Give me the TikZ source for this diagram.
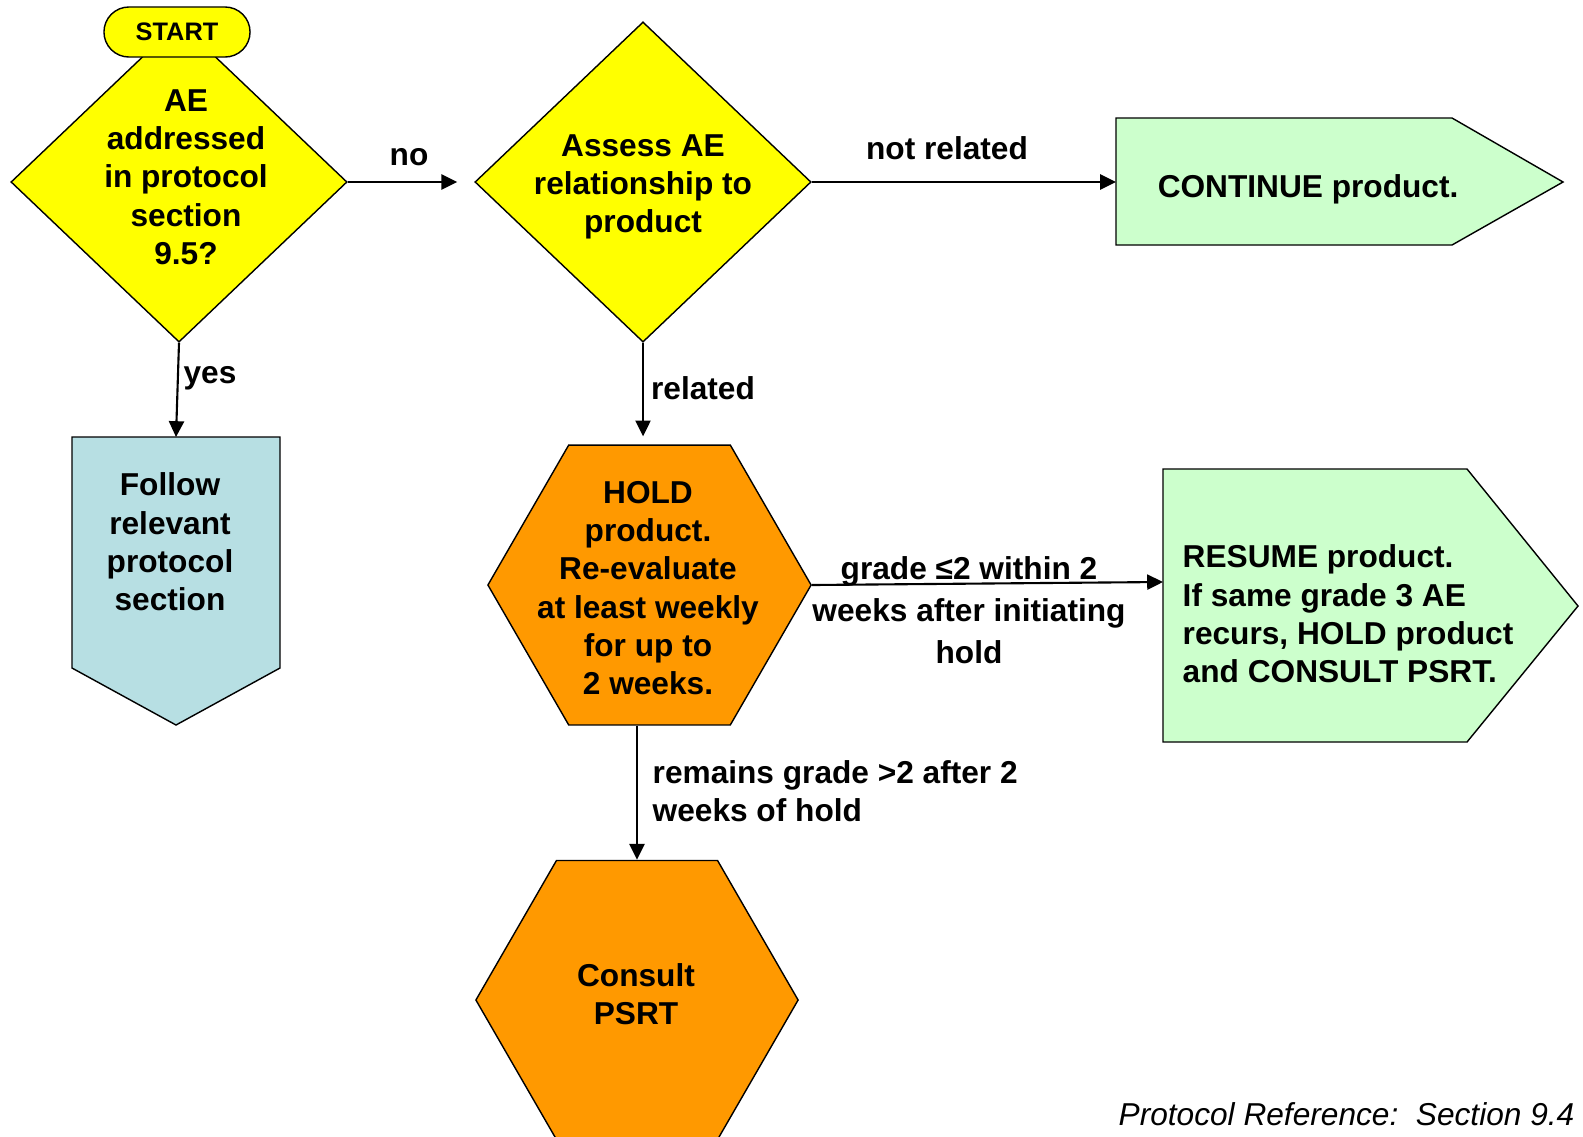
\documentclass[tikz,border=0pt]{standalone}
\usepackage{fontspec}
\setmainfont{Liberation Sans}
\usetikzlibrary{shapes.geometric,shapes.misc,arrows.meta}

\definecolor{askyellow}{RGB}{255,255,0}
\definecolor{holdorange}{RGB}{255,153,0}
\definecolor{goongreen}{RGB}{204,255,204}
\definecolor{followblue}{RGB}{183,223,227}

\begin{document}
\begin{tikzpicture}[x=0.01cm, y=-0.01cm,
		bodytext/.style={font=\fontsize{9}{10.9}\selectfont\bfseries, inner sep=0pt, align=center},
		decision/.style={diamond, draw, fill=askyellow, line width=0.4pt, minimum width=3.36cm, minimum height=3.2cm, inner sep=0pt},
		holdbox/.style={regular polygon, regular polygon sides=6, draw, fill=holdorange, line width=0.4pt, inner sep=0pt},
		outline/.style={draw=black, line width=0.4pt},
		flow/.style={-{Triangle[length=4.5pt,width=4.3pt]}, line width=0.6pt}]
		\useasboundingbox (0,0) rectangle (1583,1136);
		\clip (0,0) rectangle (1583,1136);

		\coordinate (followtop) at (176,437);

		\filldraw[outline, fill=followblue] (72,437) -- (280,437) -- (280,668) -- (176,725) -- (72,668) -- cycle;
		\filldraw[outline, fill=goongreen] (1116,118) -- (1452,118) -- (1563,182) -- (1452,245) -- (1116,245) -- cycle;
		\filldraw[outline, fill=goongreen] (1163,469) -- (1467,469) -- (1578,606) -- (1467,742) -- (1163,742) -- cycle;

		\node[decision] (addr) at (179,182) {};
		\node[decision] (assess) at (643,182) {};
		\node[holdbox, minimum size=3.23cm] (hold) at (649.5,585) {};
		\node[holdbox, minimum size=3.22cm] (psrt) at (637,1000) {};

		\node[rounded rectangle, draw, fill=askyellow, line width=0.4pt, minimum width=1.46cm, minimum height=0.5cm, inner sep=0pt, font=\fontsize{7.2}{8.7}\selectfont\bfseries] (start) at (177,32) {START};

		\node[bodytext] (addrtext) at (186,177) {AE\\addressed\\in protocol\\section\\9.5?};
		\node[bodytext] (assesstext) at (643,187) {Assess AE\\relationship to\\product};
		\node[bodytext] (holdtext) at (648,588) {HOLD\\product.\\Re-evaluate\\at least weekly\\for up to\\2 weeks.};
		\node[bodytext] (psrttext) at (636,994) {Consult\\PSRT};
		\node[bodytext] (followtext) at (170,542) {Follow\\relevant\\protocol\\section};
		\node[bodytext, anchor=west, inner xsep=0.41cm] (cont) at (1116,189) {CONTINUE product.};
		\node[bodytext, anchor=west, align=left, inner xsep=0.19cm] (resume) at (1163,614) {RESUME product.\\If same grade 3 AE\\recurs, HOLD product\\and CONSULT PSRT.};

		\draw[flow, shorten >=0.17cm] (addr.east) -- (assess.west);
		\draw[flow] (assess.east) -- (assess.east -| cont.west);
		\draw[flow] (addr.south) -- (followtop);
		\draw[flow, shorten >=0.08cm] (assess.south) -- (assess.south |- hold.north);
		\draw[flow] (hold.east) -- ([yshift=0.32cm]resume.west);
		\draw[flow] (hold.south -| psrt.north) -- (psrt.north);

		\node[bodytext] at (409,157) {no};
		\node[bodytext] at (947,148) {not related};
		\node[bodytext] at (210,378) {yes};
		\node[bodytext] at (703,388) {related};
		\node[bodytext, font=\fontsize{9}{12}\selectfont\bfseries] at (969,610) {grade ≤2 within 2\\weeks after initiating\\hold};
		\node[bodytext, anchor=west, align=left] at (652,791) {remains grade >2 after 2\\weeks of hold};
		\node[anchor=east, inner sep=0pt, font=\fontsize{9}{10.9}\selectfont\itshape] at (1575,1114) {Protocol Reference:\ \ Section 9.4};
	\end{tikzpicture}
\end{document}
